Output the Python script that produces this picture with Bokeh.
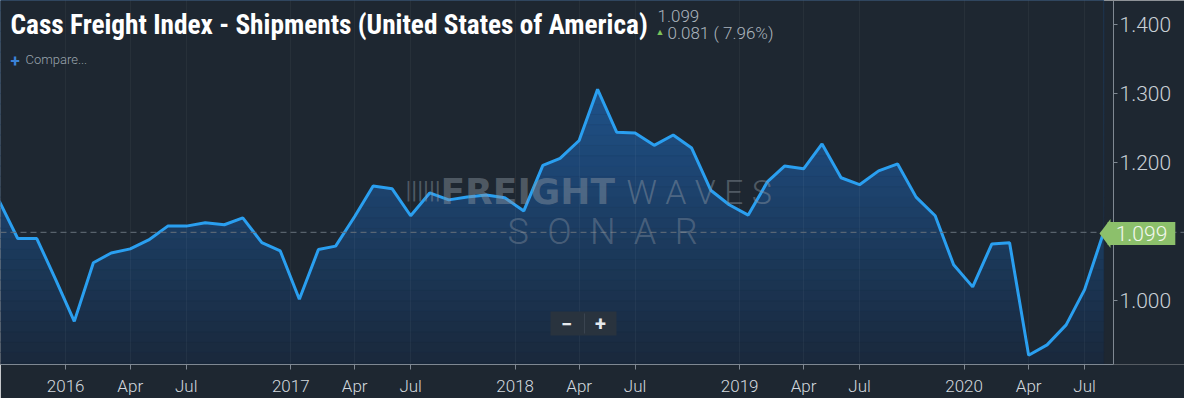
import numpy as np
import pandas as pd
from bokeh.plotting import figure
from bokeh.models import (Range1d, FixedTicker, PrintfTickFormatter, Label, Span,
                          PolyAnnotation, BoxAnnotation, ColumnDataSource)
from bokeh.embed import file_html
from bokeh.resources import INLINE

# ---------------- data ----------------
months = pd.date_range("2015-08-01", "2020-08-01", freq="MS")
shipments = [
    1.124, 1.144, 1.090, 1.090, 1.032,                                              # 2015 Aug-Dec
    0.970, 1.055, 1.069, 1.075, 1.088, 1.108, 1.108, 1.113, 1.110, 1.120, 1.084, 1.072,  # 2016
    1.002, 1.074, 1.079, 1.122, 1.166, 1.162, 1.123, 1.156, 1.146, 1.150, 1.153, 1.149,  # 2017
    1.130, 1.196, 1.206, 1.232, 1.306, 1.244, 1.243, 1.225, 1.240, 1.221, 1.160, 1.139,  # 2018
    1.124, 1.172, 1.195, 1.191, 1.227, 1.178, 1.168, 1.188, 1.198, 1.150, 1.123, 1.052,  # 2019
    1.020, 1.082, 1.084, 0.921, 0.936, 0.965, 1.016, 1.099,                              # 2020
]
tick_dates = ["2016-01-01", "2016-04-15", "2016-07-15",
              "2017-01-01", "2017-04-15", "2017-07-15",
              "2018-01-01", "2018-04-15", "2018-07-15",
              "2019-01-01", "2019-04-15", "2019-07-15",
              "2020-01-01", "2020-04-15", "2020-07-15"]
tick_labels = ["2016", "Apr", "Jul", "2017", "Apr", "Jul", "2018", "Apr", "Jul",
               "2019", "Apr", "Jul", "2020", "Apr", "Jul"]
y_ticks = [1.0, 1.2, 1.3, 1.4]
last_value = 1.099
change_text = "0.081 ( 7.96%)"
title_text = "Cass Freight Index - Shipments (United States of America)"

# ---------------- helpers ----------------
def ms(d):
    return int(pd.Timestamp(d).timestamp() * 1000)

BG = "#1e2731"
FONT = "Roboto"
LIGHT = "Roboto Light, Roboto"

x_ms = [ms(d + pd.Timedelta(days=14)) for d in months]
tick_ms = [ms(d) for d in tick_dates]

W, H = 1184, 398
PLOT_W = 1113                       # pixel position of the value axis inside the frame
x0, x_axis = ms("2015-09-17"), ms("2020-08-31")
x1 = x0 + (x_axis - x0) * W / PLOT_W
y0, y1 = 0.9076, 1.4347

p = figure(width=W, height=H, output_backend="svg", toolbar_location=None,
           x_range=Range1d(x0, x1), y_range=Range1d(y0, y1),
           y_axis_location="right", min_border_left=0, min_border_top=0,
           min_border_right=0, min_border_bottom=33)
p.background_fill_color = BG
p.border_fill_color = BG
p.outline_line_color = None

# vertical gradient strips (lighter toward top), limited to the series' x extent
levels = np.linspace(0.85, 1.45, 41)
c_lo = np.array([26, 41, 60])
c_hi = np.array([31, 82, 138])
cols = []
for a, b in zip(levels[:-1], levels[1:]):
    t = np.clip(((a + b) / 2 - 0.91) / (1.31 - 0.91), 0, 1)
    c = (c_lo + (c_hi - c_lo) * t).astype(int)
    cols.append("#%02x%02x%02x" % tuple(c))
p.quad(left=x_ms[0], right=x_ms[-1], bottom=levels[:-1], top=levels[1:],
       fill_color=cols, line_color=cols, line_width=0.5)

src = ColumnDataSource(dict(x=x_ms, y=shipments))
p.varea(x="x", y1="y", y2=2.0, source=src, fill_color=BG)
p.line(x="x", y="y", source=src, line_color="#2a9ff0", line_width=3)

# grids
p.xgrid.ticker = FixedTicker(ticks=tick_ms)
p.xgrid.grid_line_color = "white"
p.xgrid.grid_line_alpha = 0.045
p.xgrid.level = "guide"
p.ygrid.visible = False

# x axis
xa = p.xaxis[0]
xa.ticker = FixedTicker(ticks=tick_ms)
xa.bounds = (x0, x_axis)
xa.major_label_overrides = {t: l for t, l in zip(tick_ms, tick_labels)}
xa.axis_line_color = "#7f8892"
xa.major_tick_line_color = "#7f8892"
xa.major_tick_out = 5
xa.major_tick_in = 0
xa.minor_tick_line_color = None
xa.major_label_text_font = LIGHT
xa.major_label_text_font_size = "17px"
xa.major_label_text_color = "#d2d8de"
xa.major_label_standoff = 6

# y axis (right), drawn at a fixed position inside the frame
ya = p.yaxis[0]
ya.fixed_location = x_axis
ya.ticker = FixedTicker(ticks=y_ticks)
ya.formatter = PrintfTickFormatter(format="%.3f")
ya.axis_line_color = "#7f8892"
ya.major_tick_line_color = "#7f8892"
ya.major_tick_out = 4
ya.major_tick_in = 0
ya.minor_tick_line_color = None
ya.major_label_text_font = LIGHT
ya.major_label_text_font_size = "21px"
ya.major_label_text_color = "#c9d0d7"
ya.major_label_standoff = 2

# last value dashed line
p.add_layout(Span(location=last_value, dimension="width", line_color="#66707a",
                  line_dash="6 4", line_width=1))

def lab(x, y, text, size, color, font=FONT, style="normal", align="left",
        baseline="alphabetic", alpha=1.0, **kw):
    p.add_layout(Label(x=x, y=y, x_units="screen", y_units="screen", text=text,
                       text_font=font, text_font_style=style, text_font_size=size,
                       text_color=color, text_align=align, text_baseline=baseline,
                       text_alpha=alpha, **kw))

# watermark
wm = "#8c97a3"
lab(405, 175, "||||||", "24px", wm, alpha=0.45)
lab(440, 173, "FREIGHT", "36px", wm, font="DejaVu Sans", style="bold", alpha=0.45)
lab(626, 173, "W A V E S", "34px", wm, font=LIGHT, alpha=0.45)
lab(602, 133, "S\u2002O\u2002N\u2002A\u2002R", "36px", wm, font=LIGHT, align="center", alpha=0.4)

# zoom control
p.add_layout(BoxAnnotation(left=550, right=616, bottom=29, top=53, left_units="screen",
                           right_units="screen", bottom_units="screen", top_units="screen",
                           fill_color="#29333e", fill_alpha=1.0, line_color=None))
p.add_layout(BoxAnnotation(left=583.5, right=584.5, bottom=31, top=51, left_units="screen",
                           right_units="screen", bottom_units="screen", top_units="screen",
                           fill_color="#3a4450", fill_alpha=1.0, line_color=None))
lab(566, 41, "\u2212", "20px", "#e6eaee", style="bold", align="center", baseline="middle")
lab(600, 41, "+", "20px", "#e6eaee", style="bold", align="center", baseline="middle")

# titles
lab(10, 340, title_text, "27.3px", "white",
    font="Roboto Condensed, Liberation Sans Narrow, DejaVu Sans Condensed, Roboto", style="bold")
lab(657, 349, "%.3f" % last_value, "17px", "#aab3bc", font=LIGHT)
lab(655, 333, "\u25b2", "9px", "#7cc35a")
lab(667, 332, change_text, "17px", "#aab3bc", font=LIGHT)
lab(10, 304, "+", "17px", "#3b82d6", style="bold")
lab(25, 305, "Compare...", "13px", "#9aa4ad", font=LIGHT)

# last value tag
TAG = "#8cc06b"
p.add_layout(PolyAnnotation(xs=[1099, 1110, 1110], ys=[131, 145.5, 116.5],
                            xs_units="screen", ys_units="screen",
                            fill_color=TAG, fill_alpha=1.0, line_color=None))
lab(1141, 131, "%.3f" % last_value, "21px", "#f2f7ee", font=LIGHT, align="center",
    baseline="middle", background_fill_color=TAG, padding=(8, 4))

open("out.html", "w").write(file_html(p, INLINE))
